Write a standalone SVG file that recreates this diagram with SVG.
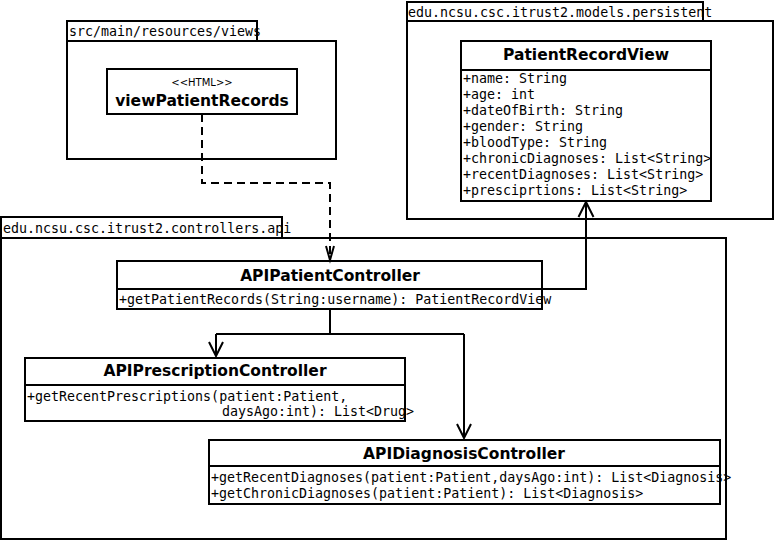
<svg xmlns="http://www.w3.org/2000/svg" width="775" height="541" viewBox="0 0 775 541">
<style>
.box{fill:#fff;stroke:#000;stroke-width:2}
.ln{fill:none;stroke:#000;stroke-width:2}
.mono{font-family:"DejaVu Sans Mono","Liberation Mono",monospace;font-size:13.3px;fill:#000}
.title{font-family:"DejaVu Sans","Liberation Sans",sans-serif;font-size:15.5px;font-weight:bold;fill:#000;text-anchor:middle}
.stereo{font-family:"DejaVu Sans","Liberation Sans",sans-serif;font-size:10px;fill:#000;text-anchor:middle}
</style>
<rect width="775" height="541" fill="#fff"/>
<g id="pkg-views">
<rect class="box" x="67" y="21" width="190" height="20"/>
<rect class="box" x="67" y="41" width="269" height="118"/>
<text class="mono" x="69" y="36">src/main/resources/views</text>
</g>
<g id="pkg-models">
<rect class="box" x="407" y="2" width="296" height="19"/>
<rect class="box" x="407" y="21" width="366" height="198"/>
<text class="mono" x="408" y="17">edu.ncsu.csc.itrust2.models.persistent</text>
</g>
<g id="pkg-controllers">
<rect class="box" x="1" y="217" width="281" height="21"/>
<rect class="box" x="1" y="238" width="725" height="301"/>
<text class="mono" x="3" y="233">edu.ncsu.csc.itrust2.controllers.api</text>
</g>
<g id="viewPatientRecords">
<rect class="box" x="107" y="69" width="190" height="45"/>
<text class="stereo" x="202" y="86">&lt;&lt;HTML&gt;&gt;</text>
<text class="title" x="202" y="106">viewPatientRecords</text>
</g>
<g id="PatientRecordView">
<rect class="box" x="461" y="41" width="250" height="160"/>
<line class="ln" x1="461" y1="70" x2="711" y2="70"/>
<text class="title" x="586" y="60">PatientRecordView</text>
<text class="mono" x="463" y="83">+name: String</text>
<text class="mono" x="463" y="99">+age: int</text>
<text class="mono" x="463" y="115">+dateOfBirth: String</text>
<text class="mono" x="463" y="131">+gender: String</text>
<text class="mono" x="463" y="147">+bloodType: String</text>
<text class="mono" x="463" y="163">+chronicDiagnoses: List&lt;String&gt;</text>
<text class="mono" x="463" y="179">+recentDiagnoses: List&lt;String&gt;</text>
<text class="mono" x="463" y="195">+presciprtions: List&lt;String&gt;</text>
</g>
<g id="APIPatientController">
<rect class="box" x="117" y="261" width="425" height="48"/>
<line class="ln" x1="117" y1="289" x2="542" y2="289"/>
<text class="title" x="330" y="281">APIPatientController</text>
<text class="mono" x="119" y="304">+getPatientRecords(String:username): PatientRecordView</text>
</g>
<g id="APIPrescriptionController">
<rect class="box" x="25" y="358" width="380" height="63"/>
<line class="ln" x1="25" y1="385" x2="405" y2="385"/>
<text class="title" x="215" y="376">APIPrescriptionController</text>
<text class="mono" x="27" y="401">+getRecentPrescriptions(patient:Patient,</text>
<text class="mono" x="222" y="416">daysAgo:int): List&lt;Drug&gt;</text>
</g>
<g id="APIDiagnosisController">
<rect class="box" x="209" y="440" width="511" height="64"/>
<line class="ln" x1="209" y1="466" x2="720" y2="466"/>
<text class="title" x="464" y="459">APIDiagnosisController</text>
<text class="mono" x="211" y="482">+getRecentDiagnoses(patient:Patient,daysAgo:int): List&lt;Diagnosis&gt;</text>
<text class="mono" x="211" y="498">+getChronicDiagnoses(patient:Patient): List&lt;Diagnosis&gt;</text>
</g>
<g id="connectors">
<path class="ln" d="M202,114 V183 H330 V260" stroke-dasharray="8,5"/>
<path class="ln" d="M326,246 L330,260 L334,246"/>
<path class="ln" d="M542,289 H586 V202"/>
<path class="ln" d="M578.5,217 L586,202 L593.5,217"/>
<path class="ln" d="M330,309 V334 M216,334 H464 M216,334 V356 M464,334 V438"/>
<path class="ln" d="M209,342 L216,356 L223,342"/>
<path class="ln" d="M457,424 L464,438 L471,424"/>
</g>
</svg>
